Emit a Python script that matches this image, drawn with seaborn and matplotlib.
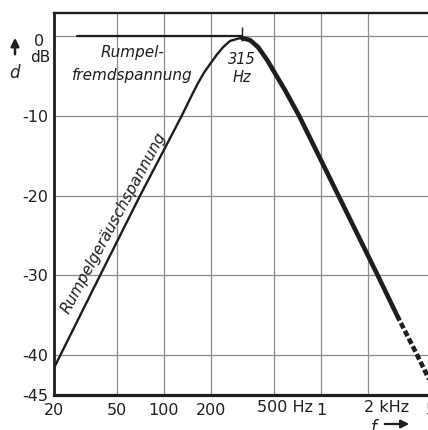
import matplotlib
matplotlib.use("Agg")
import pandas as pd
import seaborn as sns
import matplotlib.pyplot as plt

"""
1. Values read from the reference (frequency in Hz, level in dB)
"""
# Rumpelgeräuschspannung, rising flank up to the 315 Hz peak
rise_freq = [20, 39.3, 70.6, 130, 150, 165, 180, 197, 218, 238, 264, 306]
rise_db = [-41.6, -30, -20, -10, -7.5, -5.9, -4.6, -3.5, -2.3, -1.4, -0.6,
           -0.25]

# Rumpelfremdspannung, flat part
flat_freq = [28, 315]
flat_db = [0, 0]

# common falling flank (solid part)
fall_freq = [315, 354, 399, 455, 526, 592, 727, 1293, 2300, 3050]
fall_db = [-0.25, -0.5, -1.4, -3.0, -5.1, -6.8, -10, -20, -30, -35]

# falling flank, dashed extrapolation
tail_freq = [3050, 4103, 5460]
tail_db = [-35, -40, -45]

peak_freq = 315

x_ticks = [20, 50, 100, 200, 500, 1000, 2000, 5000]
x_labels = ['20', '50', '100', '200', '', '1', '', '5']
unit_ticks = [(500, '500 Hz', -17), (2000, '2 kHz', -4)]
y_ticks = [0, -10, -20, -30, -40, -45]
y_labels = ['', '-10', '-20', '-30', '-40', '-45']
y_grid = [0, -10, -20, -30, -40]

"""
2. Figure
"""
sns.set_theme(style='white')
plt.rcParams['font.family'] = ['DejaVu Sans']

W, H = 428, 430
fig = plt.figure(figsize=(W / 100, H / 100), dpi=100)
fig.patch.set_facecolor('white')
# axes runs past the right border, like the cropped scan
ax = fig.add_axes([54 / W, 35 / H, 424 / W, 382 / H])
ax.set_xscale('log')
ax.set_xlim(20, 10000)
ax.set_ylim(-45, 2.9)

ink = '#1e1e1e'
grid_c = '#8c8c8c'

for xv in x_ticks[1:]:
    ax.axvline(xv, color=grid_c, lw=0.9, zorder=1)
for yv in y_grid:
    ax.axhline(yv, color=grid_c, lw=0.9, zorder=1)

"""
3. Curves
"""
rise = pd.DataFrame({'f': rise_freq, 'd': rise_db})
flat = pd.DataFrame({'f': flat_freq, 'd': flat_db})
fall = pd.DataFrame({'f': fall_freq, 'd': fall_db})
tail = pd.DataFrame({'f': tail_freq, 'd': tail_db})

sns.lineplot(data=rise, x='f', y='d', color=ink, lw=1.7, ax=ax, zorder=3)
sns.lineplot(data=flat, x='f', y='d', color=ink, lw=1.6, ax=ax, zorder=3)
sns.lineplot(data=fall, x='f', y='d', color=ink, lw=3.3, ax=ax, zorder=3)
tail_line = sns.lineplot(data=tail, x='f', y='d', color=ink, lw=3.3, ax=ax,
                         zorder=3).lines[-1]
tail_line.set_linestyle((0, (1.3, 0.6)))
tail_line.set_dash_capstyle('butt')

# small mark at the peak
ax.vlines(peak_freq, -0.6, 1.2, color=ink, lw=1.0, zorder=3)

"""
4. Axes, ticks and labels
"""
ax.set_xticks(x_ticks)
ax.set_xticklabels(x_labels)
ax.set_yticks(y_ticks)
ax.set_yticklabels(y_labels)
ax.minorticks_off()
ax.tick_params(length=0, labelsize=11.5, colors=ink, pad=4)
ax.tick_params(axis='x', pad=6)
ax.set_xlabel('')
ax.set_ylabel('')

for xv, txt, dx in unit_ticks:
    ax.annotate(txt, xy=(xv, 0), xycoords=('data', 'axes fraction'),
                xytext=(dx, -13), textcoords='offset pixels',
                fontsize=11.5, color=ink, ha='left', va='center')

for side, lw in [('left', 2.0), ('bottom', 2.3), ('top', 1.7)]:
    ax.spines[side].set_color(ink)
    ax.spines[side].set_linewidth(lw)
    ax.spines[side].set_zorder(4)
ax.spines['right'].set_visible(False)

# unit texts and axis names
fig.text(39 / W, 1 - 41 / H, '0', fontsize=11.5, color=ink,
         ha='center', va='center')
fig.text(40 / W, 1 - 57 / H, 'dB', fontsize=11, color=ink,
         ha='center', va='center')
fig.text(14 / W, 1 - 73 / H, 'd', fontsize=12, style='italic', color=ink,
         ha='center', va='center')
ax.annotate('', xy=(15 / W, 1 - 35 / H), xytext=(15 / W, 1 - 57 / H),
            xycoords='figure fraction',
            arrowprops=dict(arrowstyle='-|>', lw=1.8, color=ink,
                            mutation_scale=12))
fig.text(374 / W, 1 - 428 / H, 'f', fontsize=12, style='italic', color=ink,
         ha='center', va='center')
ax.annotate('', xy=(412 / W, 1 - 424 / H), xytext=(382 / W, 1 - 424 / H),
            xycoords='figure fraction',
            arrowprops=dict(arrowstyle='-|>', lw=1.6, color=ink,
                            mutation_scale=12))

# curve labels
ax.text(62.8, -2.1, 'Rumpel-', fontsize=11, style='italic', color=ink,
        ha='center', va='center')
ax.text(62.8, -4.9, 'fremdspannung', fontsize=11, style='italic', color=ink,
        ha='center', va='center')
ax.text(peak_freq, -2.9, '315', fontsize=10.5, style='italic', color=ink,
        ha='center', va='center')
ax.text(peak_freq, -5.2, 'Hz', fontsize=10.5, style='italic', color=ink,
        ha='center', va='center')
ax.text(48, -23.4, 'Rumpelgeräuschspannung', fontsize=11, style='italic',
        color=ink, ha='center', va='center', rotation=61.5,
        rotation_mode='anchor')

plt.savefig('out.png', dpi=100, facecolor='white')
